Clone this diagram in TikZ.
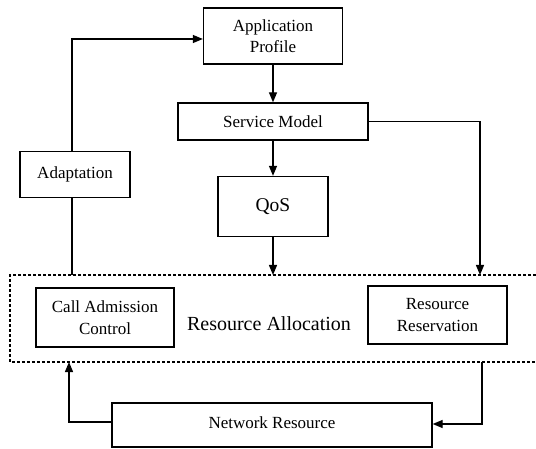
\documentclass[tikz,border=0pt]{standalone}
\usepackage{fontspec}
\setmainfont{Liberation Serif}
\usetikzlibrary{arrows.meta}
\begin{document}
\begin{tikzpicture}[x=1pt, y=-1pt,
  box/.style={draw, line width=1.3pt, align=center, inner sep=0pt,
    font=\fontsize{17}{21}\selectfont},
  link/.style={line width=1.3pt},
  arr/.style={link, -{Triangle[length=10pt, width=8pt]}},
  region/.style={line width=1.2pt, dash pattern=on 3pt off 2pt}]
\useasboundingbox (0,0) rectangle (536,449);

% blocks
\node[box, minimum width=139, minimum height=56] (app) at (273,36) {Application\\Profile};
\node[box, minimum width=190, minimum height=37] (svc) at (273,121.5) {Service Model};
\node[box, minimum width=110, minimum height=46] (adapt) at (75,174.5) {Adaptation};
\node[box, minimum width=110, minimum height=60, font=\fontsize{19.5}{23}\selectfont] (qos) at (273,206.5) {QoS};
\node[box, minimum width=138, minimum height=59, font=\fontsize{17}{22}\selectfont] (cac) at (105,317.5) {Call Admission\\Control};
\node[box, minimum width=139, minimum height=58, font=\fontsize{17}{22}\selectfont] (rr) at (437.5,315) {Resource\\Reservation};
\node[font=\fontsize{20}{24}\selectfont, inner sep=0pt] (alloc) at (269,324) {Resource Allocation};
\node[box, minimum width=320, minimum height=44] (net) at (272,425) {\raisebox{4pt}{Network Resource}};

% resource allocation region (open on the right)
\coordinate (rtl) at (10,275);
\coordinate (rbl) at (10,362);
\draw[region] (536,275) -- (rtl) -- (rbl) -- (536,362);

% entry and exit points on the region border
\coordinate (adIn) at (72,275);
\coordinate (rrIn) at (480,275);
\coordinate (caIn) at (69,362);
\coordinate (rrOut) at (482,362);

% connectors
\draw[arr] (app.south) -- (svc.north);
\draw[arr] (svc.south) -- (qos.north);
\draw[arr] (qos.south) -- (qos.south |- rtl);
\draw[arr] (svc.east) -| (rrIn);
\draw[link] (adIn) -- (adIn |- adapt.south);
\draw[arr] (adIn |- adapt.north) |- ([yshift=-3pt]app.west);
\draw[arr] ([yshift=3pt]net.west) -| (caIn);
\draw[arr] (rrOut) |- ([yshift=1pt]net.east);
\end{tikzpicture}
\end{document}
